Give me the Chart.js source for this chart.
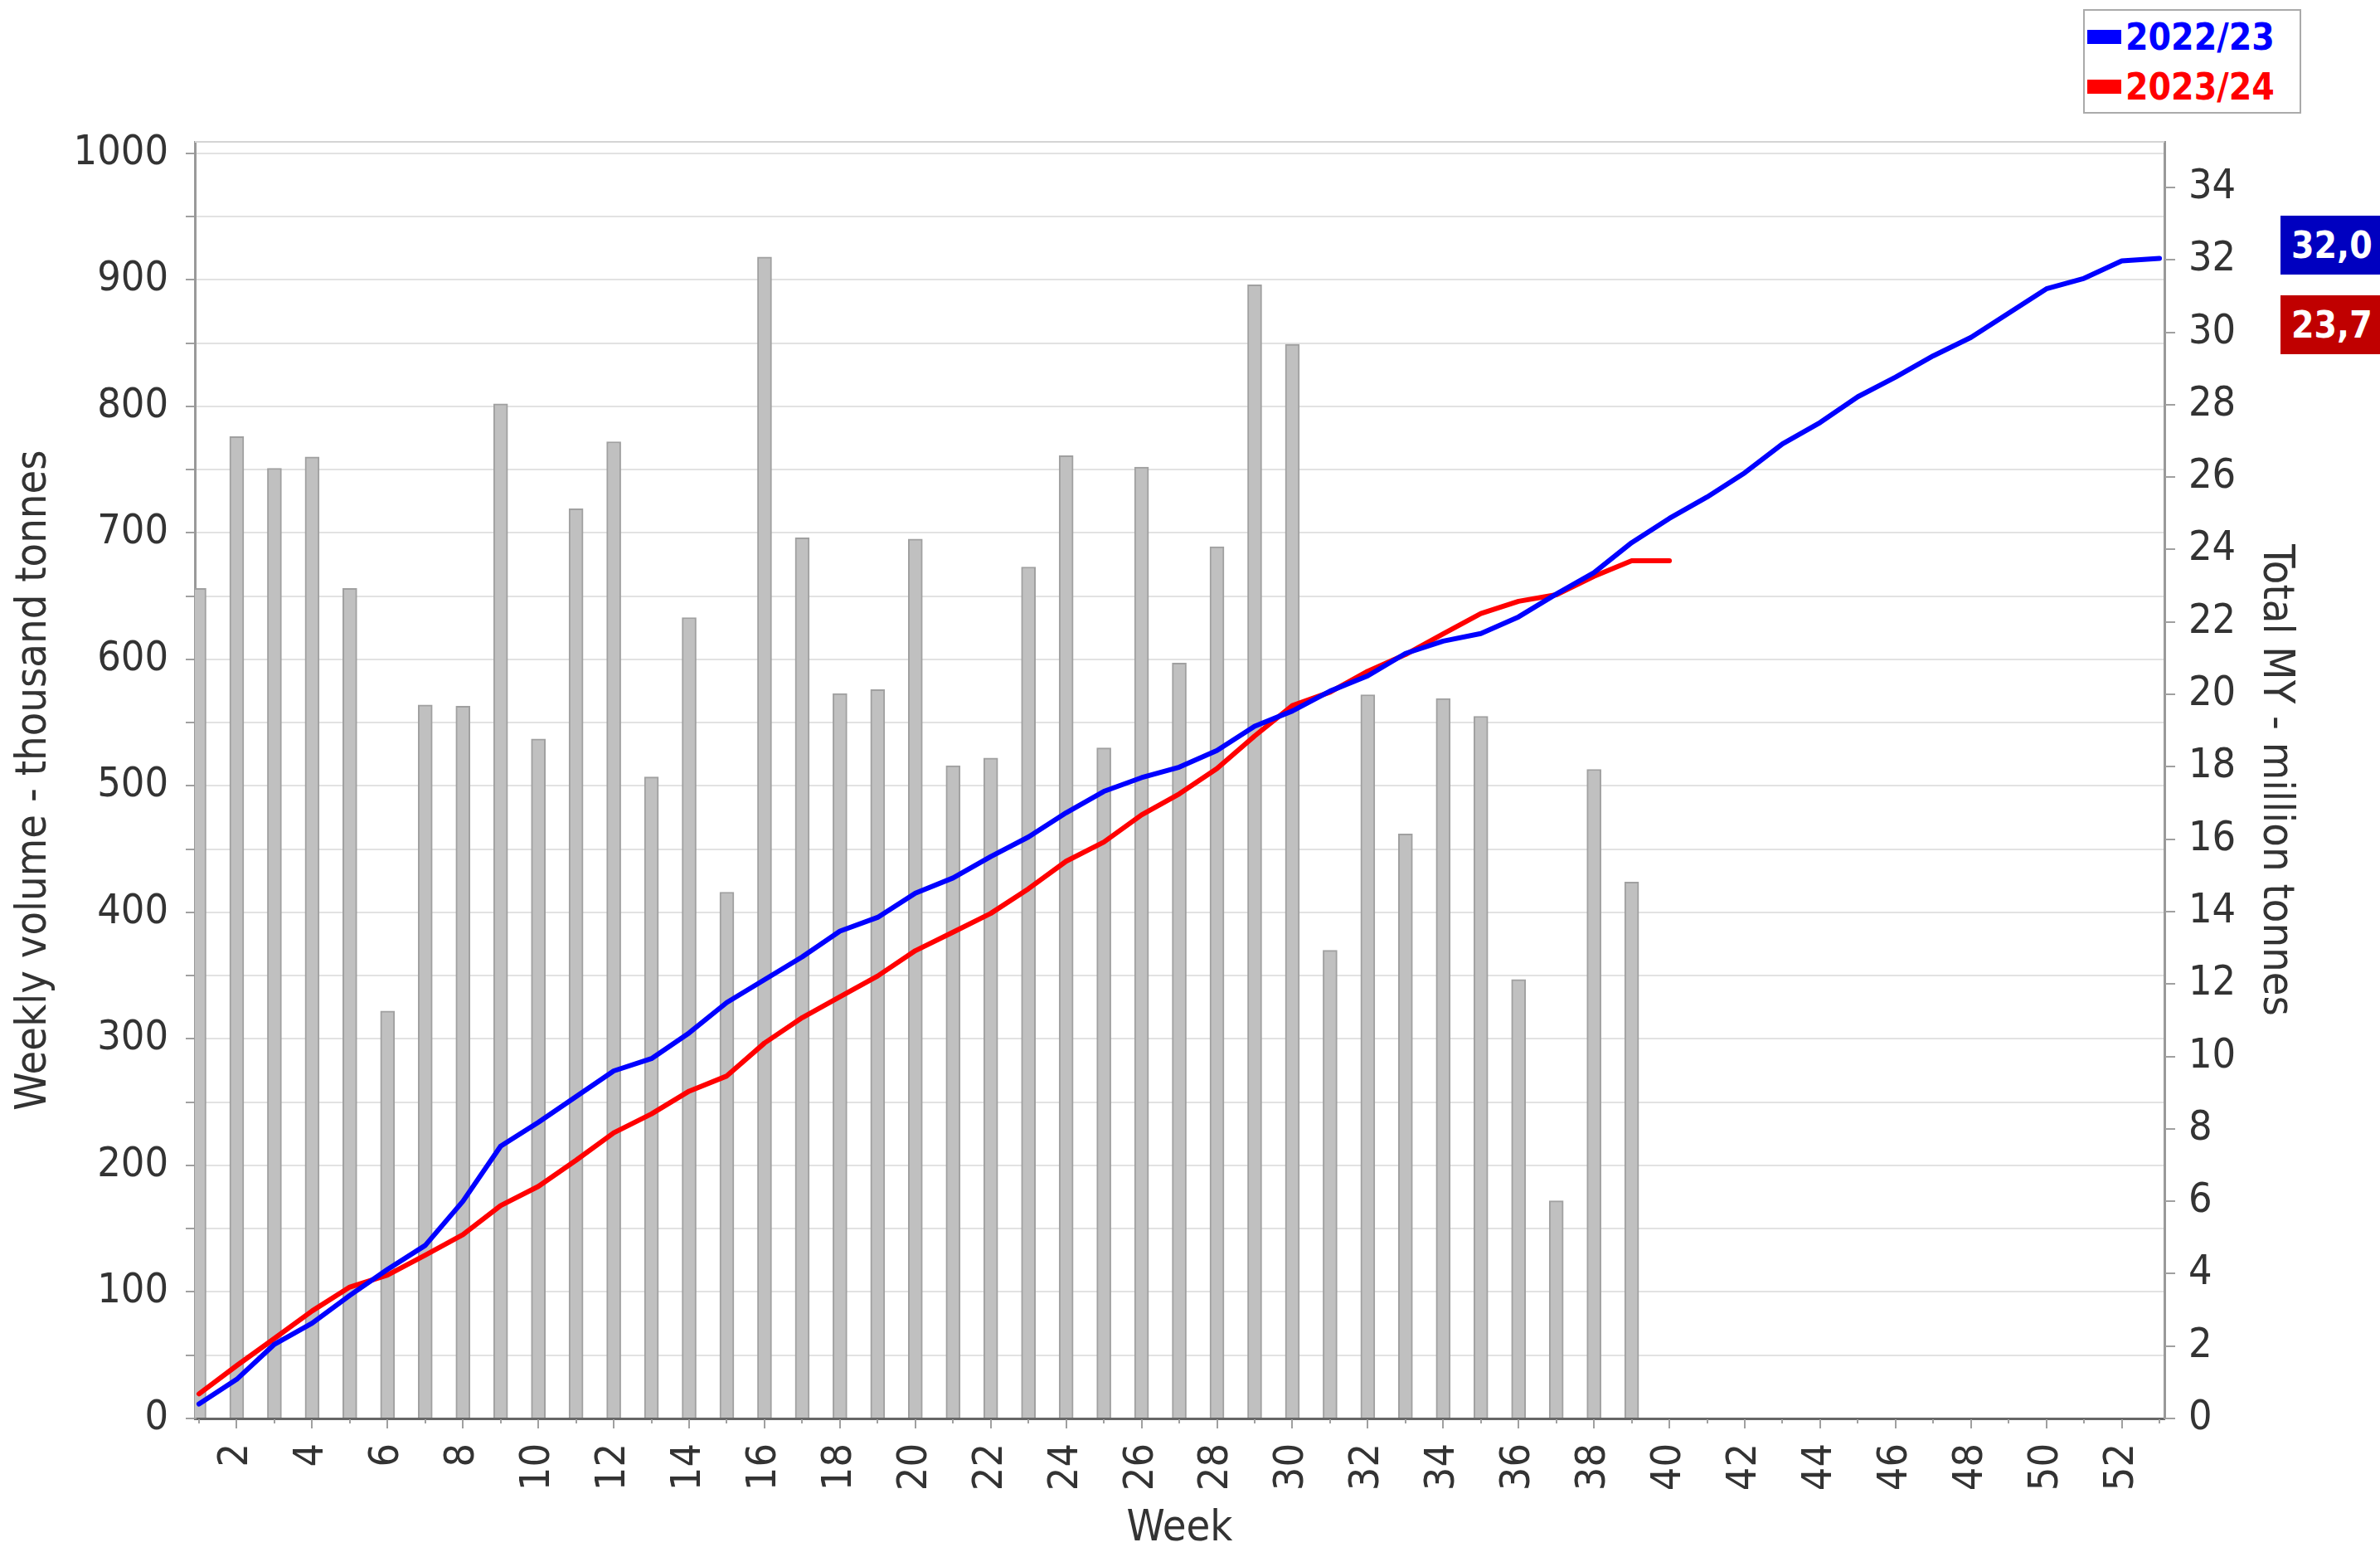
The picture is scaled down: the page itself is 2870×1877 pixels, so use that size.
<!DOCTYPE html>
<html>
<head>
<meta charset="utf-8">
<script src="https://cdn.jsdelivr.net/npm/chart.js@4.4.1/dist/chart.umd.min.js"></script>
<style>
  body { margin: 0; background: #fff; }
  #wrap { position: relative; width: 2870px; height: 1877px; }
  .legend {
    position: absolute; left: 2512px; top: 11px; width: 259px; height: 122px;
    border: 2px solid #aaa; background: #fff;
    font: bold 44px 'DejaVu Sans Condensed', 'DejaVu Sans', sans-serif;
  }
  .item { position: absolute; left: 3px; height: 60px; display: flex; align-items: center; white-space: nowrap; }
  .mark { display: inline-block; width: 41px; height: 17px; margin-right: 5px; }
  .val {
    position: absolute; left: 2750px; width: 120px; box-sizing: border-box; padding-left: 13px;
    color: #fff; font: bold 44px 'DejaVu Sans Condensed', 'DejaVu Sans', sans-serif;
  }
</style>
</head>
<body>
<div id="wrap">
  <canvas id="volumeChart" width="2870" height="1877"></canvas>
  <div class="legend" id="legend"></div>
</div>
<script>
const weeks = [1, 2, 3, 4, 5, 6, 7, 8, 9, 10, 11, 12, 13, 14, 15, 16, 17, 18, 19, 20,
  21, 22, 23, 24, 25, 26, 27, 28, 29, 30, 31, 32, 33, 34, 35, 36, 37, 38, 39, 40,
  41, 42, 43, 44, 45, 46, 47, 48, 49, 50, 51, 52, 53];

// weekly volume 2023/24, thousand tonnes
const weeklyVolume = [656, 776, 751, 760, 656, 322, 564, 563, 802, 537,
  719, 772, 507, 633, 416, 918, 696, 573, 576, 695,
  516, 522, 673, 761, 530, 752, 597, 689, 896, 849,
  370, 572, 462, 569, 555, 347, 172, 513, 424];

// cumulative totals, million tonnes
const total2223 = [0.40, 1.08, 2.05, 2.63, 3.40, 4.12, 4.78, 6.00, 7.52, 8.18,
  8.89, 9.60, 9.94, 10.65, 11.49, 12.12, 12.75, 13.46, 13.84, 14.51,
  14.93, 15.52, 16.06, 16.73, 17.32, 17.70, 17.99, 18.45, 19.12, 19.54,
  20.09, 20.51, 21.13, 21.47, 21.68, 22.14, 22.77, 23.36, 24.19, 24.86,
  25.45, 26.12, 26.92, 27.51, 28.22, 28.76, 29.35, 29.86, 30.53, 31.20,
  31.49, 31.97, 32.04];
const total2324 = [0.68, 1.46, 2.21, 2.97, 3.63, 3.96, 4.51, 5.08, 5.88, 6.41,
  7.13, 7.89, 8.41, 9.04, 9.46, 10.37, 11.07, 11.65, 12.22, 12.92,
  13.43, 13.95, 14.63, 15.39, 15.92, 16.67, 17.25, 17.95, 18.85, 19.69,
  20.06, 20.64, 21.10, 21.67, 22.23, 22.57, 22.75, 23.26, 23.69, 23.69];

const seriesNames = ["2022/23", "2023/24"];
const seriesColors = ["#0000ff", "#ff0000"];
const endLabels = ["32,0", "23,7"];
const endColors = ["#0000c0", "#c00000"];

const FONT = "'DejaVu Sans Condensed', 'DejaVu Sans', sans-serif";
const pts = (vals) => vals.map((v, i) => ({ x: weeks[i], y: v }));

// legend + end value boxes
const legend = document.getElementById("legend");
seriesNames.forEach((name, i) => {
  const it = document.createElement("div");
  it.className = "item";
  it.style.top = (1 + i * 60) + "px";
  it.style.color = seriesColors[i];
  it.innerHTML = '<span class="mark" style="background:' + seriesColors[i] + '"></span>' + name;
  legend.appendChild(it);
});
const wrap = document.getElementById("wrap");
endLabels.forEach((txt, i) => {
  const b = document.createElement("div");
  b.className = "val";
  b.style.top = (260 + i * 96) + "px";
  b.style.height = "71px";
  b.style.lineHeight = "71px";
  b.style.background = endColors[i];
  b.textContent = txt;
  wrap.appendChild(b);
});

// short/long tick marks and top frame line
const axisMarks = {
  id: "axisMarks",
  afterDraw(chart) {
    const { ctx, chartArea: a, scales: { x, y2 } } = chart;
    ctx.save();
    ctx.lineWidth = 2;
    ctx.strokeStyle = "#d4d4d4";
    ctx.beginPath();
    ctx.moveTo(a.left, a.top);
    ctx.lineTo(a.right, a.top);
    ctx.stroke();
    ctx.strokeStyle = "#a0a0a0";
    x.ticks.forEach((t) => {
      const px = Math.round(x.getPixelForValue(t.value));
      const len = t.value % 2 === 0 ? 11 : 5;
      ctx.beginPath();
      ctx.moveTo(px, a.bottom + 1);
      ctx.lineTo(px, a.bottom + 1 + len);
      ctx.stroke();
    });
    y2.ticks.forEach((t) => {
      const py = Math.round(y2.getPixelForValue(t.value));
      const len = t.value % 2 === 0 ? 12 : 6;
      ctx.beginPath();
      ctx.moveTo(a.right + 1, py);
      ctx.lineTo(a.right + 1 + len, py);
      ctx.stroke();
    });
    ctx.restore();
  },
};

const tickFont = { family: FONT, size: 50 };
const titleFont = { family: FONT, size: 52 };

new Chart(document.getElementById("volumeChart"), {
  data: {
    datasets: [
      {
        type: "line",
        label: seriesNames[0],
        data: pts(total2223),
        yAxisID: "y2",
        borderColor: seriesColors[0],
        borderWidth: 6,
        pointRadius: 0,
        borderCapStyle: "round",
        borderJoinStyle: "round",
        order: 0,
      },
      {
        type: "line",
        label: seriesNames[1],
        data: pts(total2324),
        yAxisID: "y2",
        borderColor: seriesColors[1],
        borderWidth: 6,
        pointRadius: 0,
        borderCapStyle: "round",
        borderJoinStyle: "round",
        order: 1,
      },
      {
        type: "bar",
        label: "Weekly volume",
        data: pts(weeklyVolume),
        yAxisID: "y",
        backgroundColor: "#c0c0c0",
        borderColor: "#a0a0a0",
        borderWidth: 2,
        barThickness: 17,
        order: 2,
      },
    ],
  },
  options: {
    responsive: false,
    animation: false,
    layout: { padding: { top: 171, right: 90, left: 0, bottom: 0 } },
    plugins: { legend: { display: false }, tooltip: { enabled: false } },
    scales: {
      x: {
        type: "linear",
        offset: false,
        min: 0.89,
        max: 53.13,
        ticks: {
          stepSize: 1,
          includeBounds: false,
          autoSkip: false,
          minRotation: 90,
          maxRotation: 90,
          padding: 30,
          color: "#333",
          font: tickFont,
          callback: (v) => (v % 2 === 0 ? v : ""),
        },
        grid: { drawOnChartArea: false, drawTicks: false, offset: false },
        border: { color: "#666", width: 3 },
        title: {
          display: true,
          text: "Week",
          color: "#333",
          font: titleFont,
          padding: { top: 0, bottom: 2 },
        },
        afterFit: (s) => { s.height = 167; },
      },
      y: {
        position: "left",
        min: 0,
        max: 1009,
        ticks: {
          stepSize: 50,
          includeBounds: false,
          padding: 21,
          color: "#333",
          font: tickFont,
          callback: (v) => (v % 100 === 0 ? v : ""),
        },
        grid: { color: "#e2e2e2", lineWidth: 2, tickLength: 11, tickColor: "#a0a0a0", tickWidth: 2 },
        border: { color: "#999", width: 3 },
        title: {
          display: true,
          text: "Weekly volume - thousand tonnes",
          color: "#333",
          font: titleFont,
          padding: { top: 10, bottom: 0 },
        },
        afterFit: (s) => { s.width = 235; },
      },
      y2: {
        position: "right",
        min: 0,
        max: 35.26,
        ticks: {
          stepSize: 1,
          includeBounds: false,
          padding: 29,
          color: "#333",
          font: tickFont,
          callback: (v) => (v % 2 === 0 ? v : ""),
        },
        grid: { drawOnChartArea: false, drawTicks: false },
        border: { color: "#999", width: 3 },
        title: {
          display: true,
          text: "Total MY - million tonnes",
          color: "#333",
          font: titleFont,
          padding: { top: 5, bottom: 0 },
        },
        afterFit: (s) => { s.width = 170; },
      },
    },
  },
  plugins: [axisMarks],
});
</script>
</body>
</html>
